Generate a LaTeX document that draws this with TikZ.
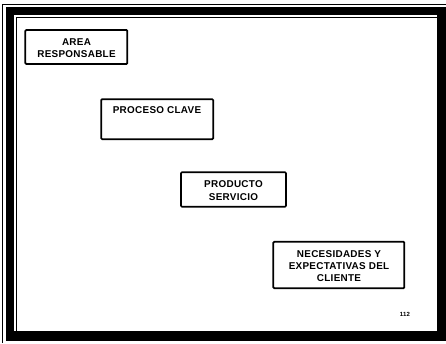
\documentclass[tikz,border=0pt]{standalone}
\usepackage{fontspec}
\setmainfont{Liberation Sans}[LetterSpace=3]
\begin{document}
\begin{tikzpicture}[x=1pt,y=-1pt,
  box/.style={draw=black,line width=1.7pt,rounded corners=1pt,fill=white,inner sep=0pt},
  lbl/.style={font=\fontsize{9.9}{12.4}\selectfont\bfseries,align=center,inner sep=0pt}]
  % page area
  \useasboundingbox (0,0) rectangle (446,343);
  \fill[white] (0,0) rectangle (446,343);
  % outer hairline
  \draw[line width=0.8pt] (2.5,343) -- (2.5,4.5) -- (446,4.5);
  % heavy frame
  \fill[black] (5.5,6.5) rectangle (446,341);
  \fill[white] (14,14.5) rectangle (437,331);
  \draw[line width=1pt] (16.5,331) -- (16.5,17) -- (437,17);

  % boxes
  \node[box,minimum width=102pt,minimum height=34pt] (area) at (76.3,47) {};
  \node[lbl] (areatxt) at (76.5,48) {AREA\\RESPONSABLE};

  \node[box,minimum width=112pt,minimum height=40pt] (proceso) at (157.2,119.2) {};
  \node[lbl] (procesotxt) at (157,110.5) {PROCESO CLAVE};

  \node[box,minimum width=105pt,minimum height=34.5pt] (producto) at (233.5,189.5) {};
  \node[lbl] (productotxt) at (233.5,190.5) {PRODUCTO\\SERVICIO};

  \node[box,minimum width=131pt,minimum height=46.5pt] (necesidades) at (338.8,265) {};
  \node[lbl,font=\fontsize{9.9}{12}\selectfont\bfseries] (necesidadestxt) at (339,266) {NECESIDADES Y\\EXPECTATIVAS DEL\\CLIENTE};

  % page number
  \node[font=\fontsize{6}{6}\selectfont\bfseries,inner sep=0pt] (pagina) at (405,314.5) {112};
\end{tikzpicture}
\end{document}
